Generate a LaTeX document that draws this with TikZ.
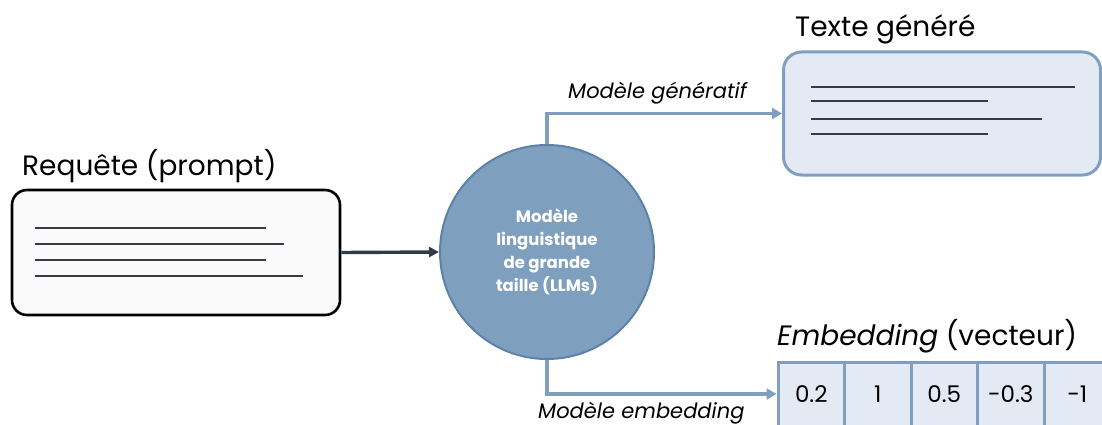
\documentclass[tikz,border=0pt]{standalone}
\usepackage{fontspec}
\setmainfont{Poppins}
\usetikzlibrary{arrows.meta}
\definecolor{llmfill}{HTML}{7F9FBF}
\definecolor{llmedge}{HTML}{5D82AA}
\definecolor{conn}{HTML}{809FC0}
\definecolor{lightfill}{HTML}{E4EAF3}
\definecolor{darkline}{HTML}{333B47}
\definecolor{promptfill}{HTML}{FAFAFA}
\tikzset{
  promptbox/.style={draw=black, line width=2.6pt, fill=promptfill, rounded corners=15pt, inner sep=0pt},
  genbox/.style={draw=conn, line width=3pt, fill=lightfill, rounded corners=18pt, inner sep=0pt},
  llmnode/.style={circle, draw=llmedge, line width=2pt, fill=llmfill, inner sep=0pt, minimum size=214pt,
    text=white, font=\fontsize{16.5}{23}\selectfont\bfseries, align=center},
  cell/.style={draw=conn, line width=3pt, fill=lightfill, minimum width=66.5pt, minimum height=64pt, inner sep=0pt,
    font=\fontsize{23}{25}\selectfont},
  textline/.style={draw=darkline, line width=2.4pt},
  title/.style={font=\fontsize{28}{30}\selectfont, inner sep=0pt, anchor=base west},
  edgelabel/.style={font=\fontsize{21}{24}\selectfont\itshape, inner sep=0pt, anchor=base west},
  darkarrow/.style={draw=darkline, line width=3.4pt, -{Triangle[length=10pt,width=10pt]}},
  bluearrow/.style={draw=conn, line width=3.5pt, -{Triangle[length=10pt,width=11pt]}},
}
\begin{document}
\begin{tikzpicture}[x=1pt,y=-1pt]
\useasboundingbox (0,0) rectangle (1102,425);
% prompt box
\node[promptbox, minimum width=328pt, minimum height=125pt] (prompt) at (176,252.5) {};
\draw[textline] (35,228) -- (266,228);
\draw[textline] (35,244) -- (284,244);
\draw[textline] (35,260) -- (266,260);
\draw[textline] (35,276) -- (303,276);
\node[title] (prompttitle) at (22,175) {Requête (prompt)};
% LLM circle
\node[llmnode] (llm) at (547,252) {Modèle\\linguistique\\de grande\\taille (LLMs)};
% generated text box
\node[genbox, minimum width=317pt, minimum height=123pt] (gen) at (942,113.5) {};
\draw[textline] (811,87) -- (1075,87);
\draw[textline] (811,101) -- (988,101);
\draw[textline] (811,119) -- (1042,119);
\draw[textline] (811,134) -- (988,134);
\node[title] (gentitle) at (795,37) {Texte généré};
% embedding cells
\node[cell] (c1) at (811.25,394) {0.2};
\node[cell] (c2) at (877.75,394) {1};
\node[cell] (c3) at (944.25,394) {0.5};
\node[cell] (c4) at (1010.75,394) {-0.3};
\node[cell] (c5) at (1077.25,394) {-1};
\node[title] (embtitle) at (777,345) {\textit{Embedding} (vecteur)};
% connectors
\draw[darkarrow] (prompt.east) -- (llm.west);
\draw[bluearrow] (llm.north) |- (gen.west);
\draw[bluearrow] (llm.south) |- (c1.west);
\node[edgelabel] (genlabel) at (568,99) {Modèle génératif};
\node[edgelabel] (emblabel) at (538,418) {Modèle embedding};
\end{tikzpicture}
\end{document}
